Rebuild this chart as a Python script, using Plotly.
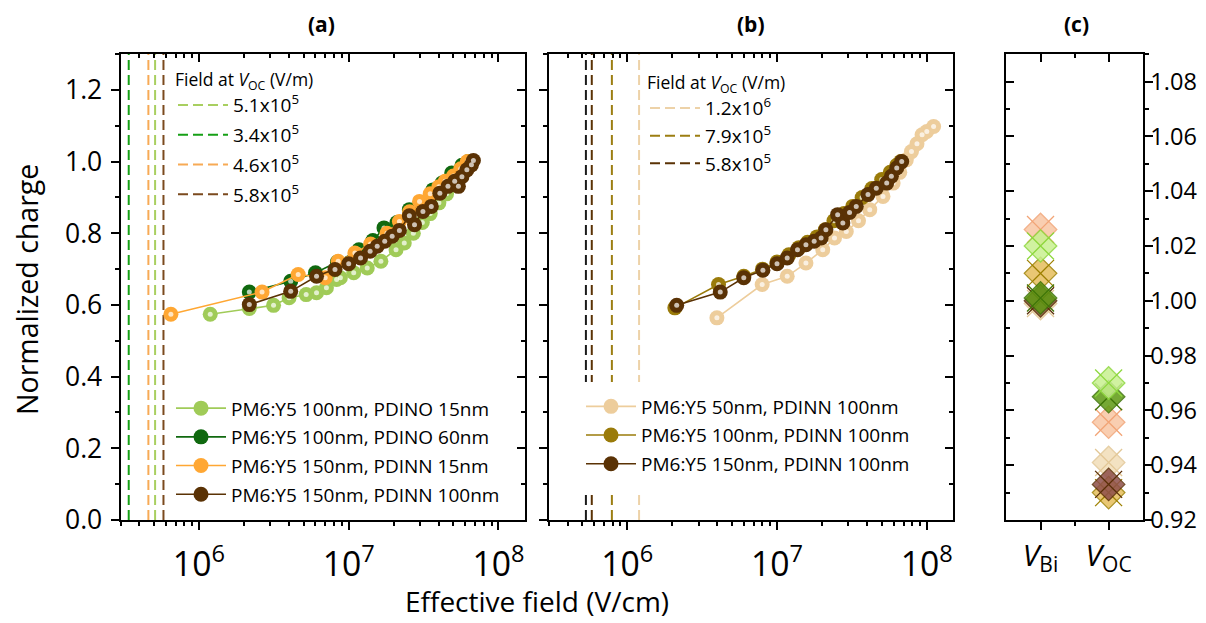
import math
import plotly.graph_objects as go

# ---------------- data ----------------
# Panel (a): effective field (1e6 V/cm) and normalized charge
a_lg_x = [1.19, 2.17, 3.15, 4.0, 5.2, 6.1, 7.1, 8.3, 8.8, 10.8, 13.3, 16.4, 20.7, 23.5, 27, 31, 35, 40, 45, 50, 55, 60, 66]
a_lg_y = [0.574, 0.59, 0.599, 0.62, 0.629, 0.634, 0.648, 0.671, 0.676, 0.69, 0.703, 0.722, 0.754, 0.773, 0.80, 0.83, 0.855, 0.885, 0.91, 0.935, 0.955, 0.975, 1.0]
a_dg_x = [2.17, 4.1, 6.0, 8.4, 11.7, 14.5, 17.2, 21, 25.4, 30, 36.5, 42, 48.7, 57, 63]
a_dg_y = [0.636, 0.666, 0.69, 0.72, 0.754, 0.78, 0.815, 0.83, 0.866, 0.885, 0.921, 0.94, 0.968, 0.99, 1.0]
a_or_x = [0.65, 2.64, 4.6, 6.97, 8.5, 11, 14, 18, 21.8, 25.5, 29.7, 35, 40, 44, 50, 56, 62]
a_or_y = [0.574, 0.636, 0.685, 0.676, 0.722, 0.745, 0.77, 0.80, 0.833, 0.86, 0.889, 0.91, 0.93, 0.945, 0.96, 0.98, 1.0]
a_br_x = [2.17, 4.1, 6.1, 8.1, 10, 12, 13.9, 15.5, 17.4, 19.5, 21.8, 25.4, 27.5, 31.3, 35.6, 40.6, 46, 51, 54, 57, 61.5, 66, 68]
a_br_y = [0.601, 0.638, 0.680, 0.699, 0.715, 0.731, 0.750, 0.764, 0.778, 0.792, 0.808, 0.849, 0.824, 0.861, 0.875, 0.912, 0.931, 0.945, 0.931, 0.958, 0.977, 0.991, 1.003]
a_names = ["PM6:Y5 100nm, PDINO 15nm", "PM6:Y5 100nm, PDINO 60nm",
           "PM6:Y5 150nm, PDINN 15nm", "PM6:Y5 150nm, PDINN 100nm"]

# Panel (b)
b_be_x = [3.97, 7.96, 11.7, 15.6, 20.2, 24.2, 29, 35, 41.6, 51, 59.6, 66, 73, 79, 86, 93, 100, 111]
b_be_y = [0.564, 0.657, 0.68, 0.717, 0.754, 0.787, 0.805, 0.835, 0.866, 0.903, 0.94, 0.97, 1.005, 1.028, 1.05, 1.075, 1.084, 1.098]
b_ol_x = [2.08, 4.07, 6.0, 8.0, 10, 12, 14, 16, 18.5, 21, 24, 28, 32, 37, 43, 50, 57, 63, 67]
b_ol_y = [0.592, 0.657, 0.68, 0.70, 0.72, 0.74, 0.76, 0.775, 0.79, 0.81, 0.835, 0.855, 0.875, 0.90, 0.925, 0.95, 0.97, 0.99, 1.0]
b_br_x = [2.14, 4.18, 6.0, 8.05, 10, 11.7, 13.7, 15.6, 17.7, 19.7, 21.2, 25.4, 27.5, 30.5, 33.8, 40.5, 46, 54, 58, 63, 68]
b_br_y = [0.599, 0.636, 0.676, 0.697, 0.715, 0.731, 0.754, 0.768, 0.778, 0.787, 0.81, 0.852, 0.829, 0.858, 0.875, 0.908, 0.926, 0.94, 0.959, 0.982, 1.0]
b_names = ["PM6:Y5 50nm, PDINN 100nm", "PM6:Y5 100nm, PDINN 100nm", "PM6:Y5 150nm, PDINN 100nm"]

# Field at V_OC (vertical dashed lines)
a_field = [5.1e5, 3.4e5, 4.6e5, 5.8e5]
a_field_lbl = ["5.1x10<sup>5</sup>", "3.4x10<sup>5</sup>", "4.6x10<sup>5</sup>", "5.8x10<sup>5</sup>"]
b_field = [1.2e6, 7.9e5, 5.8e5]
b_field_lbl = ["1.2x10<sup>6</sup>", "7.9x10<sup>5</sup>", "5.8x10<sup>5</sup>"]
b_field_extra = 5.3e5

# Panel (c): voltages per device
c_cats = ["<i>V</i><sub>Bi</sub>", "<i>V</i><sub>OC</sub>"]
c_vbi = [0.999, 1.010, 1.000, 1.026, 1.001, 1.020]
c_voc = [0.941, 0.930, 0.933, 0.9557, 0.965, 0.970]
c_fill = ["#F2DDB8", "#E6BE5C", "#8E4F4A", "#F8C6A4", "#5E9A12", "#C8F090"]
c_edge = ["#E2C796", "#9E8000", "#5A2E08", "#F2A476", "#3E7408", "#8ED83E"]

y_rng = [0.0, 1.3]

# ---------------- style ----------------
FONT = "Open Sans"
LG, DG, OR, BR = "#A0CB58", "#10690F", "#FFA733", "#5A3205"
BE, OL = "#EDCD9C", "#9A7B0A"
a_cols = [LG, DG, OR, BR]
b_cols = [BE, OL, BR]
a_vcols = ["#A8CF60", "#16A016", "#F7AA55", "#7B4A1E"]
b_vcols = ["#EDD2A8", "#9C7E12", "#5A3205"]

# Figure size; the page keeps the default 8px body margin.  Layout
# positions below are given as target picture pixels and converted.
W, H = 1206, 623
OFF = 8
SX, SY = 1206 / 1222, 623 / 639


def fx(r):
    return r / SX - OFF


def fy(r):
    return r / SY - OFF


def px(r):
    return fx(r) / W


def py(r):
    return 1 - fy(r) / H


ax_dom = [px(119), px(518)]
bx_dom = [px(541.7), px(940.7)]
cx_dom = [px(993.3), px(1127.7)]
y_dom = [py(521), py(54)]
xr = [math.log10(3e5), math.log10(1.5e8)]

fig = go.Figure()


def add_vlines(vals, cols, lbls, xa, ya, leg):
    for i, (v, c, l) in enumerate(zip(vals, cols, lbls)):
        fig.add_trace(go.Scatter(x=[v, v], y=y_rng, mode="lines", name=l,
                                 line=dict(color=c, width=2, dash="10px,5px"),
                                 xaxis=xa, yaxis=ya, legend=leg,
                                 legendgroup=leg + str(i), hoverinfo="skip"))


def add_series(xs, ys, col, name, xa, ya, leg, gid):
    xv = [v * 1e6 for v in xs]
    fig.add_trace(go.Scatter(x=xv, y=ys, mode="lines+markers", name=name,
                             line=dict(color=col, width=1.6),
                             marker=dict(color=col, size=15, line=dict(width=0)),
                             xaxis=xa, yaxis=ya, legend=leg, legendgroup=gid))
    fig.add_trace(go.Scatter(x=xv, y=ys, mode="markers", showlegend=False,
                             marker=dict(color="rgba(255,255,255,0.7)", size=5, line=dict(width=0)),
                             xaxis=xa, yaxis=ya, hoverinfo="skip"))


# panel (a)
add_vlines(a_field, a_vcols, a_field_lbl, "x", "y", "legend")
for i, (xs, ys) in enumerate([(a_lg_x, a_lg_y), (a_dg_x, a_dg_y), (a_or_x, a_or_y), (a_br_x, a_br_y)]):
    add_series(xs, ys, a_cols[i], a_names[i], "x", "y", "legend2", "a" + str(i))

# panel (b)
fig.add_trace(go.Scatter(x=[b_field_extra, b_field_extra], y=y_rng, mode="lines",
                         line=dict(color="#1A1A1A", width=2, dash="10px,5px"),
                         xaxis="x2", yaxis="y2", showlegend=False, hoverinfo="skip"))
add_vlines(b_field, b_vcols, b_field_lbl, "x2", "y2", "legend3")
for i, (xs, ys) in enumerate([(b_be_x, b_be_y), (b_ol_x, b_ol_y), (b_br_x, b_br_y)]):
    add_series(xs, ys, b_cols[i], b_names[i], "x2", "y2", "legend4", "b" + str(i))

# panel (c)
for i in range(len(c_vbi)):
    fig.add_trace(go.Scatter(x=[0, 1], y=[c_vbi[i], c_voc[i]], mode="markers",
                             marker=dict(symbol="x-thin", size=27, line=dict(color=c_edge[i], width=1.3)),
                             xaxis="x3", yaxis="y3", showlegend=False, hoverinfo="skip"))
    fig.add_trace(go.Scatter(x=[0, 1], y=[c_vbi[i], c_voc[i]], mode="markers",
                             marker=dict(symbol="diamond-x", size=25, color=c_fill[i], opacity=0.85,
                                         line=dict(color=c_edge[i], width=1.3)),
                             xaxis="x3", yaxis="y3", showlegend=False, hoverinfo="skip"))

# dummy traces to activate the mirror (inside-tick) axes
for xa, ya in [("x4", "y4"), ("x5", "y5"), ("x6", "y6")]:
    fig.add_trace(go.Scatter(x=[None], y=[None], xaxis=xa, yaxis=ya, showlegend=False, hoverinfo="skip"))

base = dict(showline=True, linecolor="black", linewidth=2, ticks="outside", ticklen=8,
            tickwidth=2, tickcolor="black", showgrid=False, zeroline=False, mirror=True,
            tickfont=dict(family=FONT, size=26.5, color="black"))
minor_log_out = dict(ticks="outside", ticklen=4, tickwidth=1.5, tickcolor="black", dtick="D1", showgrid=False)
minor_log_in = dict(ticks="inside", ticklen=4, tickwidth=1.5, tickcolor="black", dtick="D1", showgrid=False)
inside = dict(showline=False, ticks="inside", ticklen=8, tickwidth=2, tickcolor="black",
              showgrid=False, zeroline=False, showticklabels=False)

logx = dict(type="log", range=xr, dtick=1, exponentformat="power", showexponent="all",
            minor=minor_log_out, ticklabelstandoff=7)
logx_in = dict(type="log", range=xr, dtick=1, minor=minor_log_in)
yl = dict(range=y_rng, dtick=0.2, tickformat=".1f", ticklabelstandoff=3,
          minor=dict(ticks="outside", ticklen=4, tickwidth=1.5, tickcolor="black", dtick=0.1))
yl_in = dict(range=y_rng, dtick=0.2,
             minor=dict(ticks="inside", ticklen=4, tickwidth=1.5, tickcolor="black", dtick=0.1))
cy = dict(range=[0.92, 1.09], dtick=0.02, tickformat=".2f", ticklabelstandoff=-7,
          minor=dict(ticks="outside", ticklen=4, tickwidth=1.5, tickcolor="black", dtick=0.01))
cy_in = dict(range=[0.92, 1.09], dtick=0.02,
             minor=dict(ticks="inside", ticklen=4, tickwidth=1.5, tickcolor="black", dtick=0.01))
cx = dict(range=[-0.5, 1.5], tickvals=[0, 1], ticktext=c_cats, ticklabelstandoff=0,
          minor=dict(ticks="outside", ticklen=4, tickwidth=1.5, tickcolor="black", tickvals=[0.5]))
cx_in = dict(range=[-0.5, 1.5], tickvals=[0, 1],
             minor=dict(ticks="inside", ticklen=4, tickwidth=1.5, tickcolor="black", tickvals=[0.5]))

xtick_font = dict(family=FONT, size=27, color="black")


def ann(text, x, y, size, **kw):
    d = dict(text=text, x=px(x), y=py(y), xref="paper", yref="paper", showarrow=False,
             xanchor="center", yanchor="middle", font=dict(size=size))
    d.update(kw)
    return d


def ptitle(text, x):
    return dict(text=text, x=px(x), y=1.0, xref="paper", yref="paper", showarrow=False,
                xanchor="center", yanchor="top", font=dict(size=21))


fig.update_layout(
    width=W, height=H, margin=dict(l=0, r=0, t=0, b=0),
    paper_bgcolor="white", plot_bgcolor="white",
    font=dict(family=FONT, color="black"),
    xaxis=dict(domain=ax_dom, anchor="y", **{**base, "tickfont": xtick_font}, **logx),
    yaxis=dict(domain=y_dom, anchor="x", **base, **yl),
    xaxis2=dict(domain=bx_dom, anchor="y2", **{**base, "tickfont": xtick_font}, **logx),
    yaxis2=dict(domain=y_dom, anchor="x2", **{**base, "showticklabels": False}, **yl),
    xaxis3=dict(domain=cx_dom, anchor="y3", **{**base, "tickfont": dict(family=FONT, size=30, color="black")}, **cx),
    yaxis3=dict(domain=y_dom, anchor="x3", side="right",
                **{**base, "tickfont": dict(family=FONT, size=23.5, color="black")}, **cy),
    xaxis4=dict(overlaying="x", side="top", anchor="y", **inside, **logx_in),
    yaxis4=dict(overlaying="y", side="right", anchor="x", **inside, **yl_in),
    xaxis5=dict(overlaying="x2", side="top", anchor="y2", **inside, **logx_in),
    yaxis5=dict(overlaying="y2", side="right", anchor="x2", **inside, **yl_in),
    xaxis6=dict(overlaying="x3", side="top", anchor="y3", **inside, **cx_in),
    yaxis6=dict(overlaying="y3", side="left", anchor="x3", **inside, **cy_in),
    legend=dict(x=165 / W, y=1 - 57 / H, xanchor="left", yanchor="top", bgcolor="rgba(0,0,0,0)",
                font=dict(size=19), tracegroupgap=2, itemwidth=50,
                title=dict(text="Field at <i>V</i><sub>OC</sub> (V/m)", side="top", font=dict(size=17.5))),
    legend2=dict(x=163 / W, y=1 - 392 / H, xanchor="left", yanchor="top", bgcolor="white",
                 font=dict(size=19), tracegroupgap=1, itemwidth=50),
    legend3=dict(x=637 / W, y=1 - 60 / H, xanchor="left", yanchor="top", bgcolor="rgba(0,0,0,0)",
                 font=dict(size=19), tracegroupgap=0, itemwidth=50,
                 title=dict(text="Field at <i>V</i><sub>OC</sub> (V/m)", side="top", font=dict(size=17.5))),
    legend4=dict(x=567 / W, y=1 - 384 / H, xanchor="left", yanchor="top", bgcolor="white",
                 bordercolor="white", borderwidth=6,
                 font=dict(size=19), tracegroupgap=1, itemwidth=50),
    annotations=[
        ptitle("<b>(a)</b>", 317),
        ptitle("<b>(b)</b>", 741),
        ptitle("<b>(c)</b>", 1062),
        ann("Effective field (V/cm)", 530, 602, 28),
        ann("Normalized charge", 26, 290, 28.5, textangle=-90),
    ],
)

fig.write_html("out.html", config={"displayModeBar": False})
